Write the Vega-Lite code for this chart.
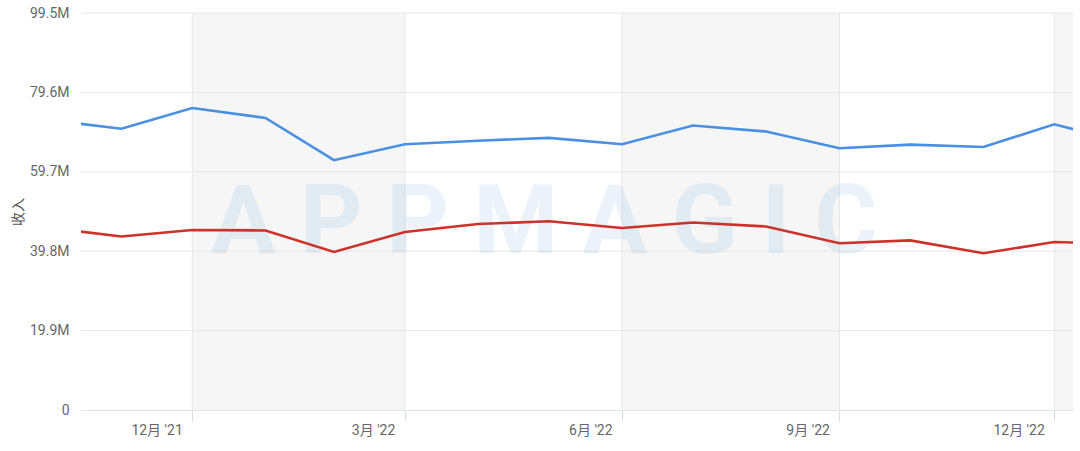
{
  "$schema": "https://vega.github.io/schema/vega-lite/v6.json",
  "width": 992,
  "height": 397,
  "autosize": {"type": "none"},
  "padding": {"left": 81, "top": 13, "right": 7, "bottom": 41},
  "background": "white",
  "config": {
    "view": {"stroke": null},
    "font": "Roboto, Noto Sans CJK SC, sans-serif"
  },
  "datasets": {
    "series": [
      {"date": "2021-10-01", "series": "blue", "value": 72700000},
      {"date": "2021-11-01", "series": "blue", "value": 70500000},
      {"date": "2021-12-01", "series": "blue", "value": 75700000},
      {"date": "2022-01-01", "series": "blue", "value": 73200000},
      {"date": "2022-01-30", "series": "blue", "value": 62600000},
      {"date": "2022-03-01", "series": "blue", "value": 66600000},
      {"date": "2022-04-01", "series": "blue", "value": 67500000},
      {"date": "2022-05-01", "series": "blue", "value": 68200000},
      {"date": "2022-06-01", "series": "blue", "value": 66600000},
      {"date": "2022-07-01", "series": "blue", "value": 71300000},
      {"date": "2022-08-01", "series": "blue", "value": 69800000},
      {"date": "2022-09-01", "series": "blue", "value": 65600000},
      {"date": "2022-10-01", "series": "blue", "value": 66500000},
      {"date": "2022-11-01", "series": "blue", "value": 65900000},
      {"date": "2022-12-01", "series": "blue", "value": 71600000},
      {"date": "2023-01-01", "series": "blue", "value": 66900000},
      {"date": "2021-10-01", "series": "red", "value": 45700000},
      {"date": "2021-11-01", "series": "red", "value": 43500000},
      {"date": "2021-12-01", "series": "red", "value": 45100000},
      {"date": "2022-01-01", "series": "red", "value": 45000000},
      {"date": "2022-01-30", "series": "red", "value": 39600000},
      {"date": "2022-03-01", "series": "red", "value": 44600000},
      {"date": "2022-04-01", "series": "red", "value": 46600000},
      {"date": "2022-05-01", "series": "red", "value": 47300000},
      {"date": "2022-06-01", "series": "red", "value": 45600000},
      {"date": "2022-07-01", "series": "red", "value": 47000000},
      {"date": "2022-08-01", "series": "red", "value": 46000000},
      {"date": "2022-09-01", "series": "red", "value": 41800000},
      {"date": "2022-10-01", "series": "red", "value": 42500000},
      {"date": "2022-11-01", "series": "red", "value": 39300000},
      {"date": "2022-12-01", "series": "red", "value": 42100000},
      {"date": "2023-01-01", "series": "red", "value": 41700000}
    ],
    "bands": [
      {"start": "2021-12-01", "end": "2022-03-01"},
      {"start": "2022-06-01", "end": "2022-09-01"},
      {"start": "2022-12-01", "end": "2023-03-01"}
    ],
    "ygrid": [
      {"v": 19900000},
      {"v": 39800000},
      {"v": 59700000},
      {"v": 79600000},
      {"v": 99500000}
    ],
    "xgrid": [
      {"d": "2021-12-01"},
      {"d": "2022-03-01"},
      {"d": "2022-06-01"},
      {"d": "2022-09-01"},
      {"d": "2022-12-01"}
    ]
  },
  "layer": [
    {
      "data": {"name": "bands"},
      "mark": {"type": "rect", "color": "#f6f6f6", "clip": true},
      "encoding": {
        "x": {
          "field": "start",
          "type": "temporal",
          "scale": {
            "type": "utc",
            "domain": [
              {"year": 2021, "month": 10, "date": 14, "hours": 21, "utc": true},
              {"year": 2022, "month": 12, "date": 8, "hours": 22, "utc": true}
            ]
          },
          "axis": {
            "title": null,
            "values": [
              {"year": 2021, "month": 12, "date": 1, "utc": true},
              {"year": 2022, "month": 3, "date": 1, "utc": true},
              {"year": 2022, "month": 6, "date": 1, "utc": true},
              {"year": 2022, "month": 9, "date": 1, "utc": true},
              {"year": 2022, "month": 12, "date": 1, "utc": true}
            ],
            "labelExpr": "utcFormat(datum.value, '%-m') + '月 \\'' + utcFormat(datum.value, '%y')",
            "labelAlign": "right",
            "labelOffset": -10,
            "labelPadding": 2,
            "labelFontSize": 14,
            "labelColor": "#666666",
            "labelFont": "Roboto, Noto Sans CJK SC, sans-serif",
            "ticks": true,
            "tickSize": 11,
            "tickColor": "#d3dbea",
            "domain": true,
            "domainColor": "#dfe3ea",
            "grid": false
          }
        },
        "x2": {"field": "end"}
      }
    },
    {
      "data": {"name": "ygrid"},
      "mark": {"type": "rule", "color": "#e6e6e6", "strokeWidth": 1},
      "encoding": {
        "y": {
          "field": "v",
          "type": "quantitative",
          "title": "收入",
          "scale": {"domain": [0, 99500000], "nice": false, "zero": true},
          "axis": {
            "title": "收入",
            "titleFontSize": 14,
            "titleFontWeight": "normal",
            "titleColor": "#555555",
            "titleFont": "Noto Sans CJK SC",
            "titlePadding": 4,
            "values": [0, 19900000, 39800000, 59700000, 79600000, 99500000],
            "labelExpr": "datum.value == 0 ? '0' : format(datum.value / 1000000, '.1f') + 'M'",
            "labelFontSize": 14,
            "labelColor": "#666666",
            "labelPadding": 12,
            "ticks": false,
            "domain": false,
            "grid": false
          }
        }
      }
    },
    {
      "data": {"name": "xgrid"},
      "mark": {"type": "rule", "color": "#e6e6e6", "strokeWidth": 1},
      "encoding": {
        "x": {"field": "d", "type": "temporal", "title": null}
      }
    },
    {
      "data": {"values": [{}]},
      "mark": {
        "type": "text",
        "font": "Roboto",
        "fontWeight": "bold",
        "fontSize": 97,
        "color": "#7fb0dc",
        "opacity": 0.15,
        "align": "center",
        "baseline": "middle"
      },
      "encoding": {
        "x": {"datum": {"year": 2022, "month": 4, "date": 29, "utc": true}, "type": "temporal", "title": null},
        "y": {"datum": 46500000, "type": "quantitative", "title": "收入"},
        "text": {"value": "A P P M A G I C"}
      }
    },
    {
      "data": {"name": "series"},
      "mark": {"type": "line", "strokeWidth": 2.6, "clip": true},
      "encoding": {
        "x": {"field": "date", "type": "temporal", "title": null},
        "y": {"field": "value", "type": "quantitative", "title": "收入"},
        "color": {
          "field": "series",
          "type": "nominal",
          "scale": {"domain": ["blue", "red"], "range": ["#4a90e2", "#cc3229"]},
          "legend": null
        }
      }
    }
  ]
}
